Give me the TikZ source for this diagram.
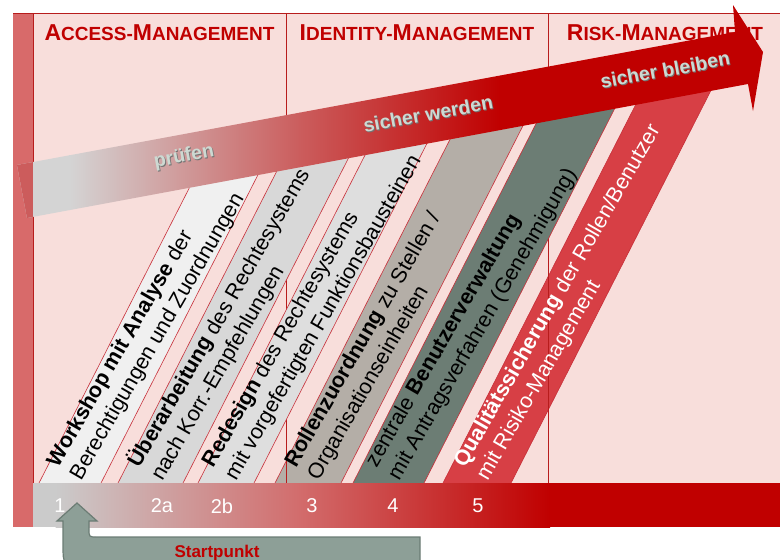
\documentclass[tikz,border=0pt]{standalone}
\usepackage{fontspec}
\setmainfont{Liberation Sans}
\usepackage{tikz}

\definecolor{bgpink}{HTML}{F8DEDB}
\definecolor{barred}{HTML}{D86A6A}
\definecolor{linered}{HTML}{B81C1C}
\definecolor{hdrred}{HTML}{C00000}
\definecolor{deepred}{HTML}{C00000}
\definecolor{arrowgray}{HTML}{D4D4D4}
\definecolor{arrowmid}{HTML}{CB5D5D}
\definecolor{arrowend}{HTML}{CC5C5C}
\definecolor{bargray}{HTML}{CBCBCB}
\definecolor{barmid}{HTML}{D26C6C}
\definecolor{sone}{HTML}{F0F0F0}
\definecolor{stwoa}{HTML}{D8D8D8}
\definecolor{stwob}{HTML}{DEDEDE}
\definecolor{sthree}{HTML}{B4AEA7}
\definecolor{sfour}{HTML}{6C7D74}
\definecolor{sfive}{HTML}{D73F45}
\definecolor{stripline}{HTML}{C8303A}
\definecolor{txtlight}{HTML}{CDD9D2}
\definecolor{startfill}{HTML}{8D9F97}
\definecolor{startline}{HTML}{6B7C74}

\newcommand{\capL}[1]{{\fontsize{23}{24}\selectfont #1}}

\tikzset{
  stripbox/.style={draw=stripline, line width=0.6pt},
  striptext/.style={rotate=60, anchor=west, align=left, inner sep=0pt,
    font=\fontsize{21.5}{26}\selectfont},
  colhead/.style={anchor=base, text=hdrred, font=\fontsize{19}{20}\selectfont\bfseries},
  arrowtext/.style={rotate=10.6, text=txtlight, font=\fontsize{19.5}{20}\selectfont\bfseries},
  arrowshadow/.style={rotate=10.6, text=black!55, font=\fontsize{19.5}{20}\selectfont\bfseries},
  stepnr/.style={text=white, font=\fontsize{20}{20}\selectfont},
  startarrow/.style={fill=startfill, draw=startline, line width=1.2pt},
  starttext/.style={anchor=base, text=hdrred, font=\fontsize{17}{17}\selectfont\bfseries},
}

\begin{document}
\begin{tikzpicture}[x=1pt,y=-1pt]
\useasboundingbox (0,0) rectangle (780,560);

% Hintergrund und Spalten
\fill[bgpink] (33,13) rectangle (780,483);
\fill[barred] (13,13) rectangle (33,527);
\draw[linered, line width=0.8pt] (13,13) -- (780,13);
\draw[linered, line width=0.8pt] (33,13) -- (33,483);
\draw[linered, line width=0.8pt] (286,13) -- (286,483);
\draw[linered, line width=0.8pt] (548,13) -- (548,483);

\node[colhead] (access) at (159.5,40) {\capL{A}CCESS-\capL{M}ANAGEMENT};
\node[colhead] (identity) at (417,40) {\capL{I}DENTITY-\capL{M}ANAGEMENT};
\node[colhead] (risk) at (665,40) {\capL{R}ISK-\capL{M}ANAGEMENT};

% Schritte
\begin{scope}
\clip (0,485) -- (0,220) -- (780,74.6) -- (780,485) -- cycle;
\foreach \xl/\xr/\col in {38/100/sone, 117/182/stwoa, 197/253/stwob, 274/340/sthree, 352/423/sfour, 442/510/sfive}
  \filldraw[stripbox, fill=\col] (\xl,485) -- (\xr,485) -- (\xr+247,0) -- (\xl+247,0) -- cycle;
\end{scope}
\draw[linered, line width=0.8pt] (286,423) -- (286,483);
\draw[linered, line width=0.8pt] (548,247) -- (548,483);

\node[striptext] (workshop) at (65,472) {\textbf{Workshop mit Analyse} der\\Berechtigungen und Zuordnungen};
\node[striptext] (ueberarb) at (145,472) {\textbf{Überarbeitung} des Rechtesystems\\nach Korr.-Empfehlungen};
\node[striptext] (redesign) at (220,472) {\textbf{Redesign} des Rechtesystems\\mit vorgefertigten Funktionsbausteinen};
\node[striptext] (rollen) at (302.5,472) {\textbf{Rollenzuordnung} zu Stellen /\\Organisationseinheiten};
\node[striptext] (benutzer) at (383,472) {zentrale \textbf{Benutzerverwaltung}\\mit Antragsverfahren (Genehmigung)};
\node[striptext, text=white] (quali) at (471.5,472) {\textbf{Qualitätssicherung} der Rollen/Benutzer\\mit Risiko-Management};

% grosser Pfeil
\begin{scope}
\clip (17,165) -- (735,32) -- (733,5) -- (763,52) -- (753,111) -- (748,84) -- (27,218) -- cycle;
\fill[arrowgray] (0,0) rectangle (70,230);
\shade[left color=arrowgray, right color=arrowmid] (69.5,0) rectangle (300,230);
\shade[left color=arrowmid, right color=deepred] (299.5,0) rectangle (500,230);
\fill[deepred] (499.5,0) rectangle (780,230);
\fill[arrowend] (0,0) rectangle (33,230);
\end{scope}

\node[arrowshadow] (pruefen-s) at (185,158) {prüfen};
\node[arrowtext] (pruefen) at (184,157) {prüfen};
\node[arrowshadow] (werden-s) at (429,115) {sicher werden};
\node[arrowtext] (werden) at (428,114) {sicher werden};
\node[arrowshadow] (bleiben-s) at (666,71) {sicher bleiben};
\node[arrowtext] (bleiben) at (665,70) {sicher bleiben};

% Leiste unten
\fill[bargray] (33,483) rectangle (56,527);
\shade[left color=bargray, right color=barmid] (55.5,483) rectangle (300,527);
\shade[left color=barmid, right color=deepred] (299.5,483) rectangle (550,527);
\fill[deepred] (549.5,483) rectangle (780,527);

\foreach \nm/\x/\t in {n1/60/1, n2a/162/2a, n2b/222/2b, n3/312/3, n4/393/4, n5/478/5}
  \node[stepnr] (\nm) at (\x,506) {\t};

% Startpunkt
\filldraw[startarrow] (77,503) -- (97,521) -- (89,521) -- (89,529) .. controls (89,537) .. (97,537)
  -- (420,537) -- (420,566) -- (85,566) .. controls (63,566) .. (63,544) -- (63,521) -- (57,521) -- cycle;
\node[starttext] (start) at (217,557) {Startpunkt};
\end{tikzpicture}
\end{document}
